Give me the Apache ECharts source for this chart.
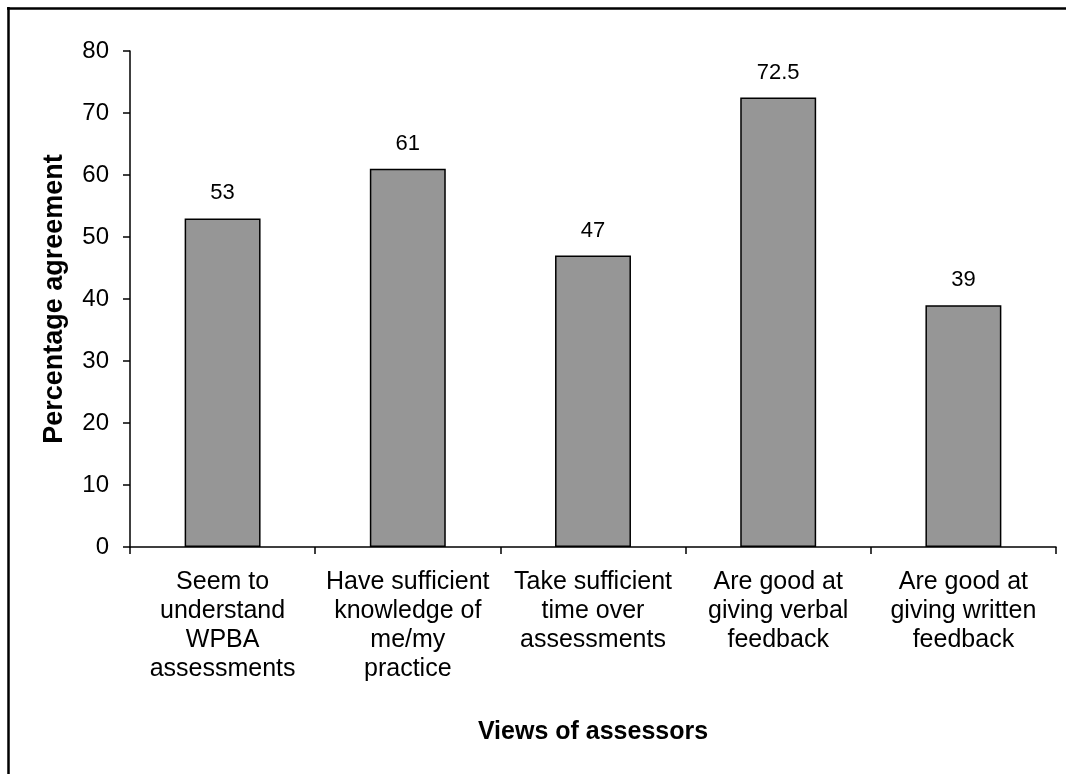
<!DOCTYPE html>
<html>
<head>
<meta charset="utf-8">
<style>
  html, body { margin: 0; padding: 0; background: #ffffff; }
  #chart { width: 1066px; height: 774px; }
</style>
<script src="https://cdn.jsdelivr.net/npm/echarts@6/dist/echarts.min.js"></script>
</head>
<body>
<div id="chart"></div>
<script>
const categories = [
  "Seem to\nunderstand\nWPBA\nassessments",
  "Have sufficient\nknowledge of\nme/my\npractice",
  "Take sufficient\ntime over\nassessments",
  "Are good at\ngiving verbal\nfeedback",
  "Are good at\ngiving written\nfeedback"
];
const agreement = [53, 61, 47, 72.5, 39];
const yTicks = { min: 0, max: 80, interval: 10 };
const yAxisTitle = "Percentage agreement";
const xAxisTitle = "Views of assessors";

const FONT = '"Liberation Sans", Arial, Helvetica, sans-serif';
const chart = echarts.init(document.getElementById('chart'), null, { renderer: 'canvas' });
chart.setOption({
  animation: false,
  backgroundColor: '#ffffff',
  textStyle: { fontFamily: FONT, color: '#000' },
  graphic: [
    { type: 'line', shape: { x1: 7, y1: 8.5, x2: 1066, y2: 8.5 }, style: { stroke: '#000', lineWidth: 2.5 } },
    { type: 'line', shape: { x1: 8.5, y1: 7, x2: 8.5, y2: 774 }, style: { stroke: '#000', lineWidth: 2.5 } }
  ],
  grid: { left: 130, right: 10, top: 51, bottom: 227, containLabel: false },
  xAxis: {
    type: 'category',
    data: categories,
    boundaryGap: true,
    axisLine: { lineStyle: { color: '#000', width: 1.5 } },
    axisTick: { show: true, length: 7, lineStyle: { color: '#000', width: 1.5 } },
    axisLabel: { interval: 0, margin: 21, fontSize: 25, lineHeight: 29, color: '#000', fontFamily: FONT, align: 'center' },
    name: xAxisTitle,
    nameLocation: 'middle',
    nameGap: 173,
    nameTextStyle: { fontSize: 25, fontWeight: 'bold', color: '#000', fontFamily: FONT }
  },
  yAxis: {
    type: 'value',
    min: yTicks.min, max: yTicks.max, interval: yTicks.interval,
    axisLine: { show: true, lineStyle: { color: '#000', width: 1.5 } },
    axisTick: { show: true, length: 7, lineStyle: { color: '#000', width: 1.5 } },
    splitLine: { show: false },
    axisLabel: { margin: 21, fontSize: 24, color: '#000', fontFamily: FONT },
    name: yAxisTitle,
    nameLocation: 'middle',
    nameGap: 62,
    nameRotate: 90,
    nameTextStyle: { fontSize: 27, fontWeight: 'bold', color: '#000', fontFamily: FONT }
  },
  series: [{
    type: 'bar',
    data: agreement,
    barWidth: '41%',
    itemStyle: { color: '#969696', borderColor: '#000', borderWidth: 1.5 },
    label: { show: true, position: 'top', distance: 14, fontSize: 22, color: '#000', fontFamily: FONT }
  }]
});
</script>
</body>
</html>
